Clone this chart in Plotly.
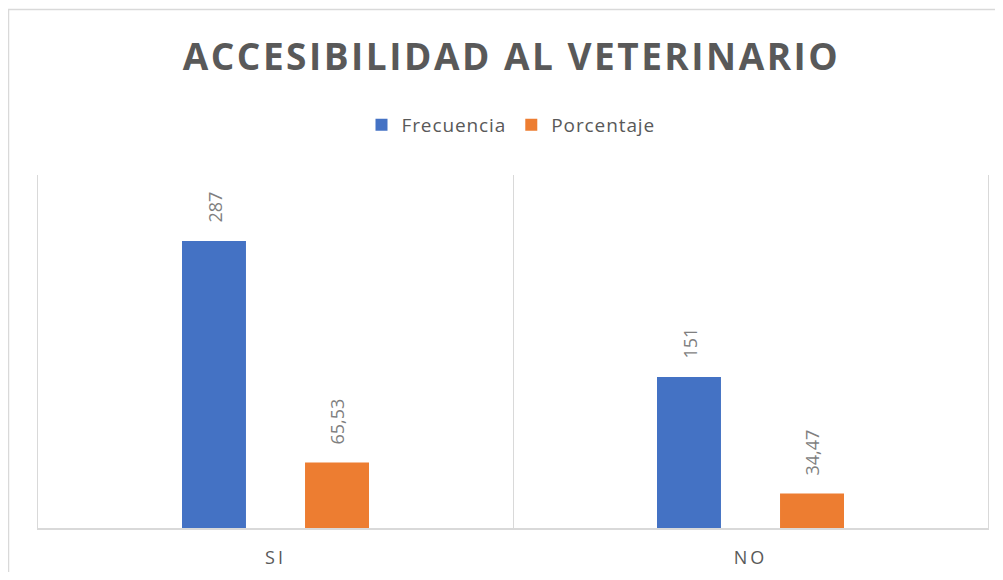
import plotly.graph_objects as go

categories = ["SI", "NO"]
tick_labels = ["S I", "N O"]
series_names = ["Frecuencia", "Porcentaje"]
frecuencia = [287, 151]
porcentaje = [65.53, 34.47]

def fmt(v):
    if float(v).is_integer():
        return str(int(v))
    return f"{v:.2f}".replace(".", ",")

BLUE = "#4472C4"
ORANGE = "#ED7D31"
GRID = "#D9D9D9"
TXT = "#595959"
LBL = "#7F7F7F"
FONT = "Open Sans"

# page body has an 8px margin; work in reference pixels and subtract it
OFF = 8
W, H = 995, 564
L, R, T, B = 30, 15, 167, 44
pw, ph = W - L - R, H - T - B

def px_x(p):  # reference pixel -> paper x
    return (p - OFF - L) / pw

def px_y(p):  # reference pixel -> paper y
    return (H - B - (p - OFF)) / ph

fig = go.Figure()
for name, vals, col in ((series_names[0], frecuencia, BLUE), (series_names[1], porcentaje, ORANGE)):
    fig.add_trace(go.Bar(x=categories, y=vals,
                         name=f'<span style="letter-spacing:0.9px">{name}</span>',
                         marker=dict(color=col, line=dict(width=0))))

annotations = []
for series, shift in ((frecuencia, -61.5), (porcentaje, 61.5)):
    for c, v in zip(categories, series):
        annotations.append(dict(x=c, y=v, xref="x", yref="y", text=fmt(v),
                                showarrow=False, textangle=-90,
                                xanchor="center", yanchor="bottom",
                                xshift=shift, yshift=16,
                                font=dict(family=FONT, size=18, color=LBL)))

fig.update_layout(
    width=W, height=H,
    margin=dict(l=L, r=R, t=T, b=B, pad=0, autoexpand=False),
    paper_bgcolor="white", plot_bgcolor="white",
    barmode="group", bargap=0.482, bargroupgap=0.48,
    title=dict(text='<span style="letter-spacing:2.5px">ACCESIBILIDAD AL VETERINARIO</span>',
               x=px_x(511.5), xanchor="center", xref="paper",
               y=1 - (57 - OFF) / H, yanchor="middle", yref="container",
               font=dict(family=FONT, size=37, color=TXT, weight="bold")),
    legend=dict(orientation="h", x=px_x(511), xanchor="center",
                y=px_y(125), yanchor="middle",
                font=dict(family=FONT, size=19, color=TXT),
                itemwidth=30, traceorder="normal", bgcolor="rgba(0,0,0,0)"),
    xaxis=dict(type="category", range=[-0.5, 1.5], automargin=False,
               tickmode="array", tickvals=categories,
               ticktext=[f'<span style="letter-spacing:3px">{t.replace(" ", "")}</span>' for t in tick_labels],
               tickson="boundaries", ticks="", showgrid=True, gridcolor=GRID, gridwidth=1,
               showline=True, linecolor=GRID, linewidth=1.5,
               tickfont=dict(family=FONT, size=18, color=TXT),
               ticklabelstandoff=13, fixedrange=True),
    yaxis=dict(range=[0, 353], showticklabels=False, showgrid=False, automargin=False,
               zeroline=False, showline=True, mirror=True, linecolor=GRID, linewidth=1,
               ticks="", fixedrange=True),
    annotations=annotations,
    showlegend=True,
    shapes=[dict(type="rect", xref="paper", yref="paper",
                 x0=px_x(8.5), x1=px_x(1002), y0=px_y(9.5), y1=px_y(640),
                 line=dict(color=GRID, width=1.5), fillcolor="rgba(0,0,0,0)", layer="below")],
)

fig.write_html("out.html")
